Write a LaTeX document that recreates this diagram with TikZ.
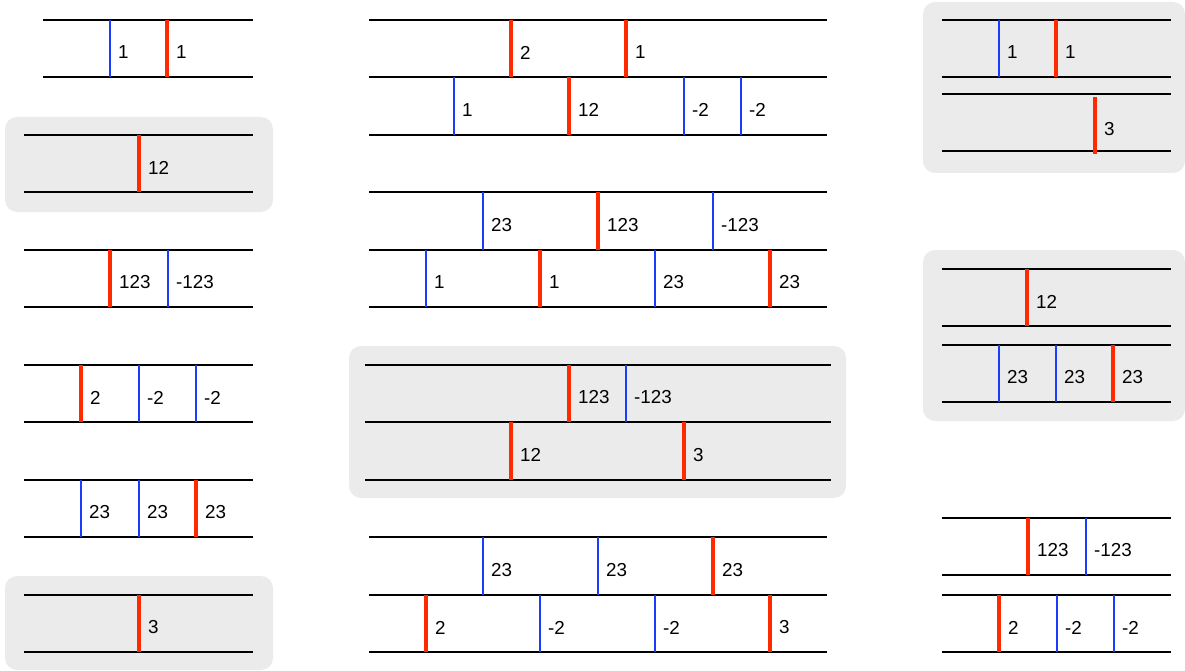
\documentclass[tikz,border=0pt]{standalone}
\usepackage{fontspec}
\setmainfont{Liberation Sans}
\definecolor{myred}{HTML}{FF2A00}
\definecolor{myblue}{HTML}{1A3CFF}
\definecolor{mygray}{HTML}{EBEBEB}
\newcommand\Rail[3]{\draw[rail] (#1,#3) -- (#2,#3);}
\newcommand\Rmk[4]{\draw[redbar] (#1,#2) -- (#1,#3); \node[lab] at ({#1+9},{(#2+#3)/2+4}) {#4};}
\newcommand\Bmk[4]{\draw[bluebar] (#1,#2) -- (#1,#3); \node[lab] at ({#1+8},{(#2+#3)/2+4}) {#4};}
\newcommand\Gbox[4]{\fill[graybox] (#1,#2) rectangle (#3,#4);}
\begin{document}
\begin{tikzpicture}[x=1pt,y=-1pt,
  rail/.style={black,line width=1.6pt},
  redbar/.style={myred,line width=4pt},
  bluebar/.style={myblue,line width=1.2pt},
  lab/.style={anchor=west,inner sep=0pt,font=\fontsize{18.8}{21}\selectfont},
  graybox/.style={mygray,rounded corners=12pt}]
\useasboundingbox (0,0) rectangle (1185,671);
% gray boxes
\Gbox{5}{117}{273}{212}
\Gbox{5}{576}{273}{670}
\Gbox{349}{346}{846}{498}
\Gbox{923}{2}{1185}{173}
\Gbox{923}{250}{1185}{421}
% ---------- left column
\Rail{43}{253}{20}\Rail{43}{253}{77}
\Bmk{110}{20}{77}{1}\Rmk{167}{20}{77}{1}
\Rail{24}{253}{135}\Rail{24}{253}{192}
\Rmk{139}{135}{192}{12}
\Rail{24}{253}{250}\Rail{24}{253}{307}
\Rmk{110}{250}{307}{123}\Bmk{168}{250}{307}{-123}
\Rail{24}{253}{365}\Rail{24}{253}{422}
\Rmk{81}{365}{422}{2}\Bmk{139}{365}{422}{-2}\Bmk{196}{365}{422}{-2}
\Rail{24}{253}{480}\Rail{24}{253}{537}
\Bmk{81}{480}{537}{23}\Bmk{139}{480}{537}{23}\Rmk{196}{480}{537}{23}
\Rail{24}{253}{595}\Rail{24}{253}{652}
\Rmk{139}{595}{652}{3}
% ---------- middle column
\Rail{369}{827}{20}\Rail{369}{827}{77}\Rail{369}{827}{135}
\Rmk{511}{20}{77}{2}\Rmk{626}{20}{77}{1}
\Bmk{454}{77}{135}{1}\Rmk{569}{77}{135}{12}\Bmk{684}{77}{135}{-2}\Bmk{741}{77}{135}{-2}
\Rail{369}{827}{192}\Rail{369}{827}{250}\Rail{369}{827}{307}
\Bmk{483}{192}{250}{23}\Rmk{598}{192}{250}{123}\Bmk{713}{192}{250}{-123}
\Bmk{426}{250}{307}{1}\Rmk{540}{250}{307}{1}\Bmk{655}{250}{307}{23}\Rmk{770}{250}{307}{23}
\Rail{365}{831}{365}\Rail{365}{831}{422}\Rail{365}{831}{480}
\Rmk{569}{365}{422}{123}\Bmk{626}{365}{422}{-123}
\Rmk{511}{422}{480}{12}\Rmk{684}{422}{480}{3}
\Rail{369}{827}{537}\Rail{369}{827}{595}\Rail{369}{827}{652}
\Bmk{483}{537}{595}{23}\Bmk{598}{537}{595}{23}\Rmk{713}{537}{595}{23}
\Rmk{426}{595}{652}{2}\Bmk{540}{595}{652}{-2}\Bmk{655}{595}{652}{-2}\Rmk{770}{595}{652}{3}
% ---------- right column
\Rail{942}{1171}{20}\Rail{942}{1171}{77}
\Bmk{999}{20}{77}{1}\Rmk{1056}{20}{77}{1}
\Rail{942}{1171}{94}\Rail{942}{1171}{151}
\Rmk{1095}{97}{154}{3}
\Rail{942}{1171}{269}\Rail{942}{1171}{326}
\Rmk{1027}{269}{326}{12}
\Rail{942}{1171}{345}\Rail{942}{1171}{402}
\Bmk{999}{345}{402}{23}\Bmk{1056}{345}{402}{23}\Rmk{1113}{345}{402}{23}
\Rail{942}{1171}{518}\Rail{942}{1171}{575}
\Rmk{1028}{518}{575}{123}\Bmk{1086}{518}{575}{-123}
\Rail{942}{1171}{595}\Rail{942}{1171}{652}
\Rmk{999}{595}{652}{2}\Bmk{1057}{595}{652}{-2}\Bmk{1114}{595}{652}{-2}
\end{tikzpicture}
\end{document}
